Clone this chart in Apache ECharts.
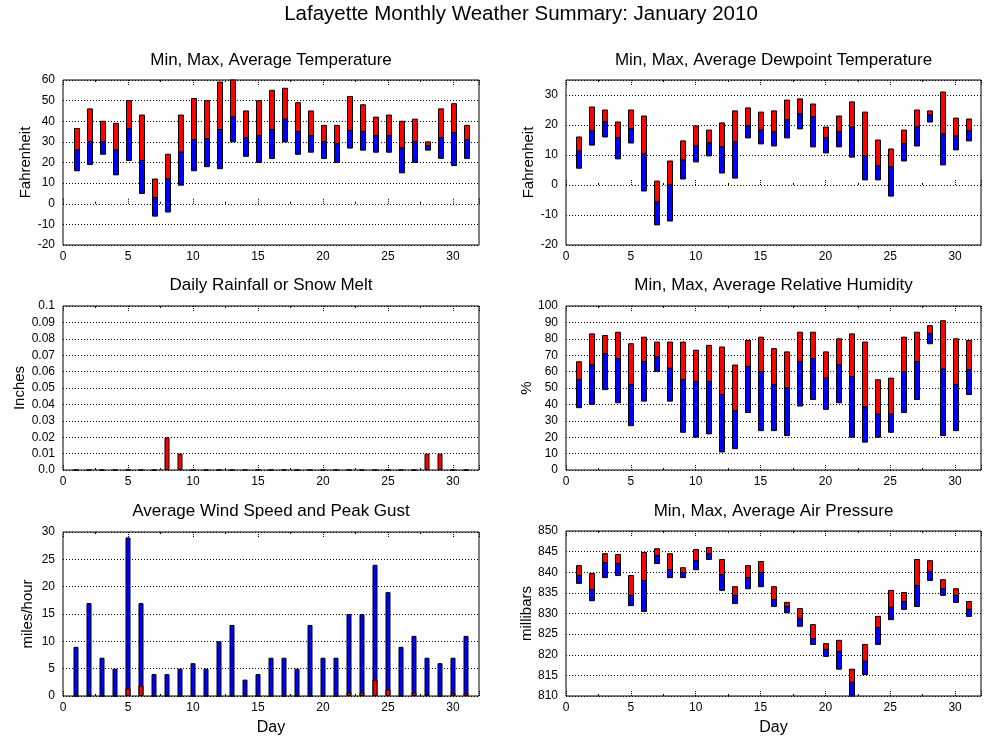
<!DOCTYPE html>
<html>
<head>
<meta charset="utf-8">
<script src="https://cdn.jsdelivr.net/npm/echarts@6/dist/echarts.min.js"></script>
<style>
html,body{margin:0;padding:0;background:#fff;}
#chart{width:1000px;height:750px;}
</style>
</head>
<body>
<div id="chart"></div>
<script>
const days = [1,2,3,4,5,6,7,8,9,10,11,12,13,14,15,16,17,18,19,20,21,22,23,24,25,26,27,28,29,30,31];

const tempMax = [36.5,46,40,39,50,43,12,24,43,51,50,59,60,45,50,55,56,49,45,38,38,52,48,42,43,40,41,30,46,48.5,38];
const tempAvg = [26,30,30,26,36.5,21,3,12,25,31,31.5,36,42,32,33,36,41,35,33,30,29,35.5,35,33,33,27,30,28,32,34.5,31];
const tempMin = [16,19,24,14,21,5,-6,-4,9,16,18,17,30,23,20,22,30,24,25,22,20,27,26,25,25,15,20,26,22,18.5,22];

const dewMax = [16,26,25,21,25,23,1.3,8,14.7,19.7,18.3,20.7,24.7,25.7,24.3,24.7,28.3,28.7,27,19.3,23,27.7,24.3,15,12,18.3,25,24.7,31,22.3,22];
const dewAvg = [11.3,18,21,15.7,18.7,10.3,-5.7,0,8.3,13,14,12.7,14.3,19.7,18.3,17.7,21.7,23.7,22.7,15.7,17.7,19.3,9.7,6.3,6,13.7,19.3,23.3,17,16.3,18];
const dewMin = [5.6,13.3,16,8.7,14,-2,-13.3,-12,2,7.7,9.7,4,2.3,15.7,13.7,13,15.7,18.7,12.7,10.7,12.7,9.3,1.7,1.7,-3.7,8,13,21,6.7,11.7,14.7];

const rain = [0,0,0,0,0,0,0,0.02,0.01,0,0,0,0,0,0,0,0,0,0,0,0,0,0,0,0,0,0,0.01,0.01,0,0];

const humMax = [66,83,82,84,77,81,78,78,78,73,76,75,64,79,81,74,72,84,84,72,80,83,78,55,56,81,84,88,91,80,79];
const humAvg = [55,64,71,68,52,66,69,62,55,54,54,46,36,63,60,52,50,66,68,56,64,57,38.5,34,34,60,66,83,61.5,52,61];
const humMin = [38,40,49,41,27,42,60,42,23,20,22,11,13,35,24,24,21,39,43,37,41,20,17,20,23,35,43,77,21,24,46];

const windGust = [9,17,7,5,29,17,4,4,5,6,5,10,13,3,4,7,7,5,13,7,7,15,15,24,19,9,11,7,6,7,11];
const windAvg = [0,0,0,0,1.4,1.9,0,0,0,0,0,0,0,0,0,0,0,0,0,0,0,0.65,0.65,3,1.2,0,0.65,0.3,0,0.5,0.5];

const pressMax = [841.6,839.7,844.5,844.3,839.2,844.8,845.7,844.5,841.1,845.5,846,843.1,836.5,841.6,842.6,836.5,832.7,831.2,827.3,822.7,823.5,816.5,822.5,829.3,835.6,835.1,843.1,842.8,838.2,836,832.9];
const pressAvg = [839.2,835.8,842.3,842.1,834.4,838,844,840.6,839.9,842.8,844.5,839.4,834.4,838.7,839.9,833.4,831.7,828.8,823.9,821.3,820.8,813.3,818.4,826.6,831.5,832.9,836.8,840.2,836,834.4,831];
const pressMin = [837.3,833.1,838.7,839.2,831.9,830.5,842.1,838.7,838.7,840.6,843.1,835.6,832.4,836,836.5,831.7,830.2,826.9,822.5,819.6,816.5,809,815.2,822.5,828.5,831,831.7,838,834.4,832.7,829.3];

const FONT = 'Liberation Sans, Arial, Helvetica, sans-serif';
const RED = '#ff0000', BLUE = '#0000ff';

const grids = [
  {left:63, top:80, width:416, height:165},
  {left:566, top:80, width:415, height:165},
  {left:63, top:306, width:416, height:164},
  {left:566, top:306, width:415, height:164},
  {left:63, top:532, width:416, height:164},
  {left:566, top:531, width:415, height:165}
];

const panelTitles = [
  'Min, Max, Average Temperature',
  'Min, Max, Average Dewpoint Temperature',
  'Daily Rainfall or Snow Melt',
  'Min, Max, Average Relative Humidity',
  'Average Wind Speed and Peak Gust',
  'Min, Max, Average Air Pressure'
];
const titleTops = [52,52,277,277,503,503];

const yCfg = [
  {min:-20, max:60, interval:10, name:'Fahrenheit', gap:28},
  {min:-20, max:35, interval:10, name:'Fahrenheit', gap:27, hide:35},
  {min:0, max:0.1, interval:0.01, name:'Inches', gap:36, rain:true},
  {min:0, max:100, interval:10, name:'%', gap:27},
  {min:0, max:30, interval:5, name:'miles/hour', gap:28},
  {min:810, max:850, interval:5, name:'millibars', gap:27}
];

const xAxes = [];
const yAxes = [];
grids.forEach((g, i) => {
  xAxes.push({
    type:'value', gridIndex:i, min:0, max:32, interval:5, position:'bottom',
    name: i >= 4 ? 'Day' : '', nameLocation:'middle', nameGap:24,
    nameTextStyle:{fontFamily:FONT, fontSize:16, color:'#000'},
    axisLine:{show:false},
    axisTick:{show:true, inside:true, length:5, lineStyle:{color:'#000', type:[1,1]}},
    minorTick:{show:true, splitNumber:2, length:2, lineStyle:{color:'#000'}},
    axisLabel:{fontFamily:FONT, fontSize:12, color:'#000', margin:6,
      formatter: v => (Math.round(v) % 5 === 0 && v <= 30) ? String(v) : ''},
    splitLine:{show:false}
  });
  const c = yCfg[i];
  yAxes.push({
    type:'value', gridIndex:i, min:c.min, max:c.max, interval:c.interval,
    name:c.name, nameLocation:'middle', nameGap:c.gap,
    nameTextStyle:{fontFamily:FONT, fontSize:15, color:'#000'},
    axisLine:{show:false}, axisTick:{show:false},
    axisLabel:{fontFamily:FONT, fontSize:12, color:'#000', margin:8,
      formatter: v => {
        if (c.hide !== undefined && v === c.hide) return '';
        if (c.rain) { const r = Math.round(v*100)/100; return r === 0 ? '0.0' : String(r); }
        return String(v);
      }},
    splitLine:{show:true, lineStyle:{color:'#000', width:1, type:[1,2]}}
  });
});
// mirrored top ticks
grids.forEach((g, i) => {
  xAxes.push({
    type:'value', gridIndex:i, min:0, max:32, interval:5, position:'top',
    axisLine:{show:false}, axisLabel:{show:false}, splitLine:{show:false},
    axisTick:{show:true, inside:true, length:5, lineStyle:{color:'#000', type:[1,1]}},
    minorTick:{show:true, splitNumber:2, length:2, lineStyle:{color:'#000'}}
  });
});

function floatRender(params, api) {
  const x = api.value(0), lo = api.value(1), mid = api.value(2), hi = api.value(3);
  const pLo = api.coord([x, lo]);
  const pMid = api.coord([x, mid]);
  const pHi = api.coord([x, hi]);
  const w = 5;
  const cs = params.coordSys;
  const area = {x:cs.x, y:cs.y, width:cs.width, height:cs.height};
  const x0 = Math.round(pLo[0] - w/2) + 0.5;
  const blue = echarts.graphic.clipRectByRect({x:x0, y:pMid[1], width:w, height:pLo[1]-pMid[1]}, area);
  const red = echarts.graphic.clipRectByRect({x:x0, y:pHi[1], width:w, height:pMid[1]-pHi[1]}, area);
  const children = [];
  if (red) children.push({type:'rect', shape:red, style:{fill:RED, stroke:'#000', lineWidth:1}});
  if (blue) children.push({type:'rect', shape:blue, style:{fill:BLUE, stroke:'#000', lineWidth:1}});
  return {type:'group', children};
}

function floatData(mn, av, mx) {
  return days.map((d, k) => [d, mn[k], av[k], mx[k]]);
}

function floatSeries(idx, mn, av, mx) {
  return {
    type:'custom', xAxisIndex:idx, yAxisIndex:idx,
    renderItem: floatRender, data: floatData(mn, av, mx),
    encode:{x:0, y:[1,2,3]}, silent:true, animation:false
  };
}

const series = [
  floatSeries(0, tempMin, tempAvg, tempMax),
  floatSeries(1, dewMin, dewAvg, dewMax),
  {type:'bar', xAxisIndex:2, yAxisIndex:2, barWidth:5, animation:false,
   itemStyle:{color:RED, borderColor:'#000', borderWidth:1},
   data: days.map((d,k) => [d, rain[k]])},
  floatSeries(3, humMin, humAvg, humMax),
  {type:'bar', xAxisIndex:4, yAxisIndex:4, barWidth:5, barGap:'-100%', animation:false,
   itemStyle:{color:BLUE, borderColor:'#000', borderWidth:1},
   data: days.map((d,k) => [d, windGust[k]])},
  {type:'bar', xAxisIndex:4, yAxisIndex:4, barWidth:5, barGap:'-100%', animation:false,
   itemStyle:{color:RED, borderColor:'#000', borderWidth:1},
   data: days.map((d,k) => [d, windAvg[k]])},
  floatSeries(5, pressMin, pressAvg, pressMax)
];

const titles = [{
  text:'Lafayette Monthly Weather Summary: January 2010',
  left:521, top:4, textAlign:'center', padding:0,
  textStyle:{fontFamily:FONT, fontSize:20.5, fontWeight:'normal', color:'#000'}
}];
grids.forEach((g, i) => {
  titles.push({
    text: panelTitles[i], left: g.left + g.width/2, top: titleTops[i],
    textAlign:'center', padding:0,
    textStyle:{fontFamily:FONT, fontSize:17, fontWeight:'normal', color:'#000'}
  });
});

const chart = echarts.init(document.getElementById('chart'), null, {renderer:'canvas'});
chart.setOption({
  backgroundColor:'#fff',
  animation:false,
  title: titles,
  grid: grids.map(g => Object.assign({show:true, borderColor:'#000', borderWidth:1, containLabel:false}, g)),
  xAxis: xAxes,
  yAxis: yAxes,
  series: series
});
</script>
</body>
</html>
